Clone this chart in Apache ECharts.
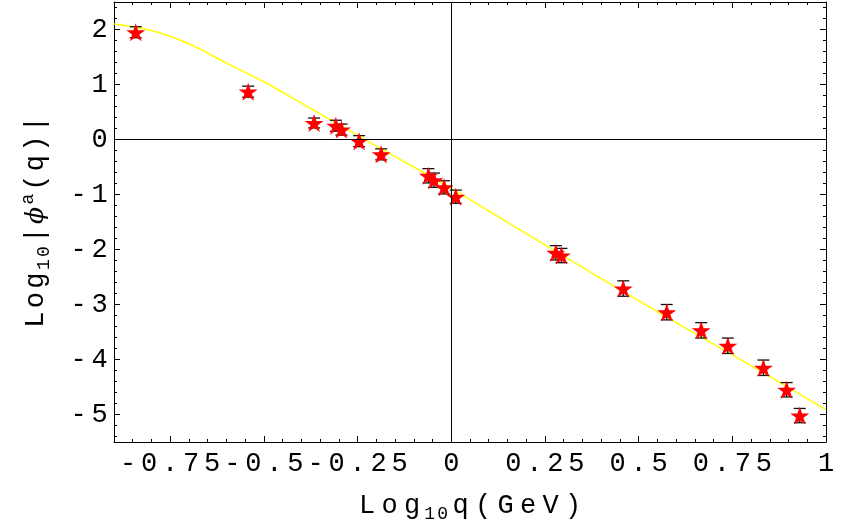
<!DOCTYPE html>
<html>
<head>
<meta charset="utf-8">
<script src="https://cdn.jsdelivr.net/npm/echarts@6/dist/echarts.min.js"></script>
<style>
  html, body { margin: 0; padding: 0; background: #fff; }
  #chart { width: 846px; height: 532px; }
</style>
</head>
<body>
<div id="chart"></div>
<script>
// Model curve: log10 |phi^a(q)| against log10 q
const curveX = [-0.9, -0.8, -0.7, -0.6, -0.5, -0.4, -0.3, -0.2, -0.1, 0, 0.1, 0.2, 0.3, 0.4, 0.5, 0.6, 0.7, 0.8, 0.9, 1.0];
const curveY = [2.10, 1.98, 1.74, 1.39, 1.05, 0.66, 0.27, -0.12, -0.50, -0.89, -1.30, -1.71, -2.12, -2.53, -2.93, -3.33, -3.72, -4.11, -4.51, -4.91];

// Measured points with symmetric error bars
const dataX = [-0.842, -0.542, -0.366, -0.308, -0.293, -0.246, -0.187, -0.061, -0.046, -0.019, 0.012, 0.279, 0.294, 0.459, 0.575, 0.667, 0.738, 0.833, 0.895, 0.930];
const dataY = [1.95, 0.87, 0.30, 0.25, 0.18, -0.03, -0.27, -0.66, -0.74, -0.87, -1.04, -2.06, -2.11, -2.71, -3.14, -3.47, -3.75, -4.15, -4.55, -5.02];
const dataErr = [0.10, 0.10, 0.09, 0.10, 0.10, 0.10, 0.10, 0.13, 0.13, 0.12, 0.12, 0.13, 0.13, 0.14, 0.14, 0.14, 0.14, 0.14, 0.13, 0.13];

// Axis ticks
const xTickLabels = [-0.75, -0.5, -0.25, 0, 0.25, 0.5, 0.75, 1];
const yTickLabels = [-5, -4, -3, -2, -1, 0, 1, 2];

const X_MIN = -0.9, X_MAX = 1.0, Y_MIN = -5.5, Y_MAX = 2.5;

const xMinor = [];
for (let i = -18; i <= 20; i++) xMinor.push(+(i * 0.05).toFixed(2));
const yMinor = [];
for (let i = -27; i <= 12; i++) yMinor.push(+(i * 0.2).toFixed(1));

const MONO = '"Liberation Mono", "DejaVu Sans Mono", monospace';

// Each character gets its own fixed-width cell, giving the wide typewriter spacing
function spaced(str, style) {
  return Array.from(str).map(ch => '{' + style + '|' + ch + '}').join('');
}

const tickRich = {
  c: { fontFamily: MONO, fontSize: 27, width: 21, align: 'center', color: '#000' }
};
function titleRich(pitch) {
  return {
    t: { fontFamily: MONO, fontSize: 27, width: pitch, align: 'center', lineHeight: 34, color: '#000' },
    s: { fontFamily: MONO, fontSize: 18, width: 13, align: 'center', verticalAlign: 'bottom', color: '#000' },
    p: { fontFamily: MONO, fontSize: 18, width: 13, align: 'center', verticalAlign: 'top', color: '#000' },
    phi: { fontFamily: '"DejaVu Serif", serif', fontStyle: 'italic', fontSize: 25, width: 20, align: 'center', lineHeight: 34, color: '#000' }
  };
}

const xName = spaced('Log', 't') + spaced('10', 's') + spaced('q(GeV)', 't');
const yName = spaced('Log', 't') + spaced('10', 's') + spaced('|', 't') + '{phi|\u03D5}' + spaced('a', 'p') + spaced('(q)|', 't');

const frameLine = { show: true, onZero: false, lineStyle: { color: '#000', width: 1 } };
const noLine = { show: false, onZero: false };
const tickStyle = { color: '#000', width: 1 };

function xAxisDef(position, major) {
  return {
    type: 'value', min: X_MIN, max: X_MAX, position: position,
    axisLine: major ? frameLine : noLine,
    splitLine: { show: false },
    axisTick: { show: true, inside: true, length: major ? 6 : 3, customValues: major ? xTickLabels : xMinor, lineStyle: tickStyle },
    axisLabel: { show: false }
  };
}
function yAxisDef(position, major) {
  return {
    type: 'value', min: Y_MIN, max: Y_MAX, position: position,
    axisLine: major ? frameLine : noLine,
    splitLine: { show: false },
    axisTick: { show: true, inside: true, length: major ? 6 : 3, customValues: major ? yTickLabels : yMinor, lineStyle: tickStyle },
    axisLabel: { show: false }
  };
}

const xBottom = xAxisDef('bottom', true);
xBottom.axisLabel = {
  show: true, customValues: xTickLabels, margin: 8,
  formatter: v => spaced(String(v), 'c'), rich: tickRich
};
xBottom.name = xName;
xBottom.nameLocation = 'middle';
xBottom.nameGap = 47;
xBottom.nameTextStyle = { rich: titleRich(22.5) };

const yLeft = yAxisDef('left', true);
yLeft.axisLabel = {
  show: true, customValues: yTickLabels, margin: 4,
  formatter: v => spaced(String(v), 'c'), rich: tickRich
};
yLeft.name = yName;
yLeft.nameLocation = 'middle';
yLeft.nameRotate = 90;
yLeft.nameGap = 61;
yLeft.nameTextStyle = { rich: titleRich(19.5) };

const STAR = 'path://M50,0 L61.8,35.1 L98.1,35.1 L68.7,56.8 L79.4,91.2 L50,70 L20.6,91.2 L31.3,56.8 L1.9,35.1 L38.2,35.1 Z';

const chart = echarts.init(document.getElementById('chart'), null, { renderer: 'canvas' });
chart.setOption({
  animation: false,
  backgroundColor: '#fff',
  grid: { left: 114, right: 20, top: 2, bottom: 90, containLabel: false, outerBoundsMode: 'none' },
  xAxis: [xBottom, xAxisDef('bottom', false), xAxisDef('top', true), xAxisDef('top', false)],
  yAxis: [yLeft, yAxisDef('left', false), yAxisDef('right', true), yAxisDef('right', false)],
  series: [
    {
      // coordinate axes through the origin
      type: 'line', data: [], z: 1, silent: true,
      markLine: {
        silent: true, symbol: 'none', label: { show: false },
        lineStyle: { color: '#000', width: 1, type: 'solid' },
        data: [{ xAxis: 0 }, { yAxis: 0 }]
      }
    },
    {
      type: 'line', z: 2, silent: true,
      data: curveX.map((x, i) => [x, curveY[i]]),
      showSymbol: false, smooth: 0.3,
      lineStyle: { color: '#ffff00', width: 1.5 }
    },
    {
      type: 'custom', z: 3, silent: true,
      data: dataX.map((x, i) => [x, dataY[i], dataErr[i]]),
      encode: { x: 0, y: 1 },
      renderItem: function (params, api) {
        const x = api.value(0), y = api.value(1), e = api.value(2);
        const hi = api.coord([x, y + e]);
        const lo = api.coord([x, y - e]);
        const hw = 6;
        const st = { stroke: '#111', lineWidth: 1.3 };
        return {
          type: 'group',
          children: [
            { type: 'line', shape: { x1: hi[0], y1: hi[1], x2: lo[0], y2: lo[1] }, style: st },
            { type: 'line', shape: { x1: hi[0] - hw, y1: hi[1], x2: hi[0] + hw, y2: hi[1] }, style: st },
            { type: 'line', shape: { x1: lo[0] - hw, y1: lo[1], x2: lo[0] + hw, y2: lo[1] }, style: st }
          ]
        };
      }
    },
    {
      type: 'scatter', z: 4, silent: true,
      data: dataX.map((x, i) => [x, dataY[i]]),
      symbol: STAR, symbolSize: 19, symbolKeepAspect: true,
      itemStyle: { color: '#ff0000', opacity: 1 }
    }
  ]
});
</script>
</body>
</html>
